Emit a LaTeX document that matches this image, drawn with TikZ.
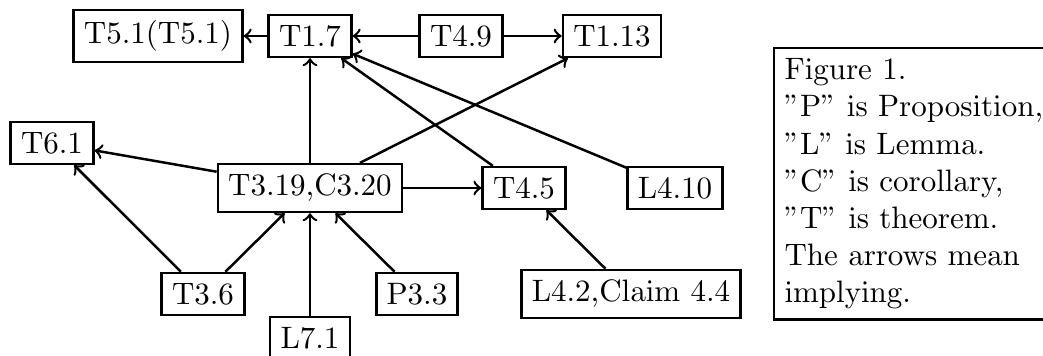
\documentclass[tikz,border=0pt]{standalone}
\usepackage[OT1]{fontenc}
\begin{document}
\begin{tikzpicture}[x=0.32258pt,y=-0.32258pt,
  box/.style={draw,thick},
  imp/.style={->,thick}]
\useasboundingbox (0,0) rectangle (1043,356);
\node[box] (t51) at (158,36) {T5.1(T5.1)};
\node[box] (t17) at (310,36) {T1.7};
\node[box] (t49) at (461,36) {T4.9};
\node[box] (t113) at (612,36) {T1.13};
\node[box] (t61) at (52,143) {T6.1};
\node[box] (t319) at (310,188) {T3.19,C3.20};
\node[box] (t45) at (524,188) {T4.5};
\node[box] (l410) at (675,188) {L4.10};
\node[box] (t36) at (203,294) {T3.6};
\node[box] (p33) at (417,294) {P3.3};
\node[box] (l71) at (310,338) {L7.1};
\node[box] (l42) at (631,294) {L4.2,Claim 4.4};
\node[box,anchor=north west,align=left] (leg) at (773,47)
  {Figure 1.\\ "P" is Proposition,\\ "L" is Lemma.\\ "C" is corollary,\\ "T" is theorem.\\ The arrows mean\\ implying.};
\draw[imp] (t17) -- (t51);
\draw[imp] (t49) -- (t17);
\draw[imp] (t49) -- (t113);
\draw[imp] (t319) -- (t17);
\draw[imp] (t319) -- (t113);
\draw[imp] (t319) -- (t61);
\draw[imp] (t319) -- (t45);
\draw[imp] (t45) -- (t17);
\draw[imp] (l410) -- (t17);
\draw[imp] (t36) -- (t61);
\draw[imp] (t36) -- (t319);
\draw[imp] (l71) -- (t319);
\draw[imp] (p33) -- (t319);
\draw[imp] (l42) -- (t45);
\end{tikzpicture}
\end{document}
